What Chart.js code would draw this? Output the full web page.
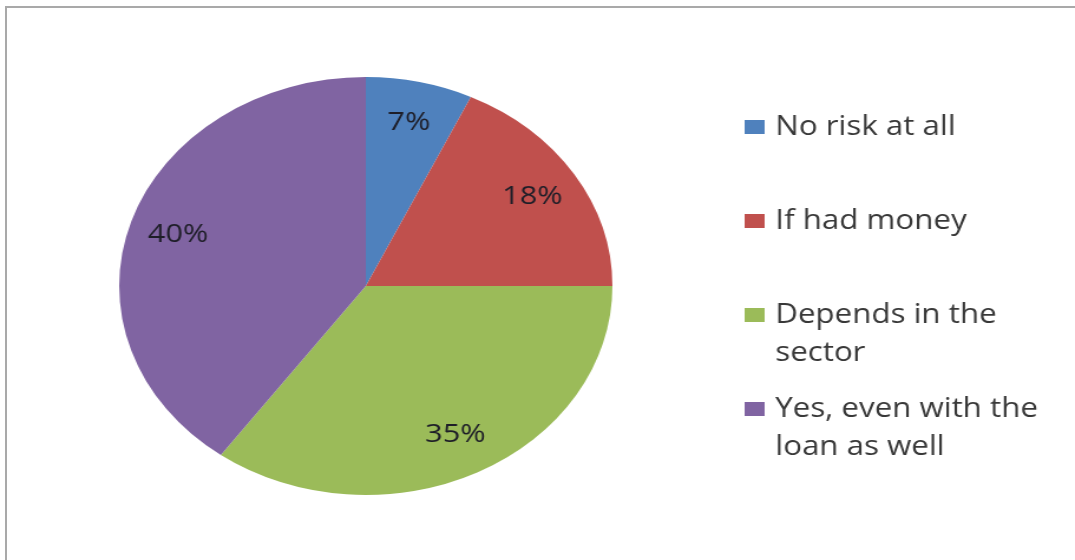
<!DOCTYPE html>
<html><head><meta charset="utf-8">
<script src="https://cdn.jsdelivr.net/npm/chart.js@4"></script>
<style>
html,body{margin:0;padding:0;background:#fff;width:1075px;height:560px;overflow:hidden;}
#frame{position:absolute;left:5px;top:6px;width:1200px;height:700px;border-left:2px solid #a9a9a9;border-top:2px solid #a9a9a9;}
#wrap{position:absolute;left:0;top:0;width:911px;height:560px;transform:scaleX(1.18);transform-origin:0 0;}
</style></head>
<body><div id="frame"></div><div id="wrap"><canvas id="c"></canvas></div>
<script>
const categories = ['No risk at all', 'If had money', 'Depends in the sector', 'Yes, even with the loan as well'];
const legendLines = [['No risk at all'], ['If had money'], ['Depends in the', 'sector'], ['Yes, even with the', 'loan as well']];
const values = [7, 18, 35, 40];
const pctLabels = ['7%', '18%', '35%', '40%'];
const colors = ['#4F81BD', '#C0504D', '#9BBB59', '#8064A2'];

const sliceLabels = {
  id: 'sliceLabels',
  afterDatasetsDraw(chart) {
    const ctx = chart.ctx;
    const meta = chart.getDatasetMeta(0);
    ctx.save();
    ctx.font = '26px "Open Sans"';
    ctx.fillStyle = '#1e1e28';
    ctx.textAlign = 'center';
    ctx.textBaseline = 'middle';
    meta.data.forEach((arc, i) => {
      const p = arc.getProps(['x', 'y', 'startAngle', 'endAngle', 'outerRadius'], true);
      const mid = (p.startAngle + p.endAngle) / 2;
      const r = p.outerRadius * 0.8;
      ctx.fillText(pctLabels[i], p.x + Math.cos(mid) * r, p.y + Math.sin(mid) * r);
    });
    ctx.restore();
  }
};

const sideLegend = {
  id: 'sideLegend',
  afterDraw(chart) {
    const ctx = chart.ctx;
    ctx.save();
    ctx.font = '26.5px "Open Sans"';
    ctx.textBaseline = 'middle';
    ctx.textAlign = 'left';
    const boxX = 631, textX = 657, top = 127, step = 94, lineH = 38;
    categories.forEach((c, i) => {
      const y = top + i * step;
      ctx.fillStyle = colors[i];
      ctx.fillRect(boxX, y - 7, 17, 14);
      ctx.fillStyle = '#383838';
      legendLines[i].forEach((ln, j) => ctx.fillText(ln, textX, y + j * lineH));
    });
    ctx.restore();
  }
};

new Chart(document.getElementById('c'), {
  type: 'pie',
  data: {
    labels: categories,
    datasets: [{ data: values, backgroundColor: colors, borderWidth: 0 }]
  },
  options: {
    responsive: true,
    maintainAspectRatio: false,
    animation: false,
    events: [],
    layout: { padding: { top: 77, bottom: 65, left: 101, right: 392 } },
    plugins: { legend: { display: false }, tooltip: { enabled: false } }
  },
  plugins: [sliceLabels, sideLegend]
});
</script>
</body></html>
